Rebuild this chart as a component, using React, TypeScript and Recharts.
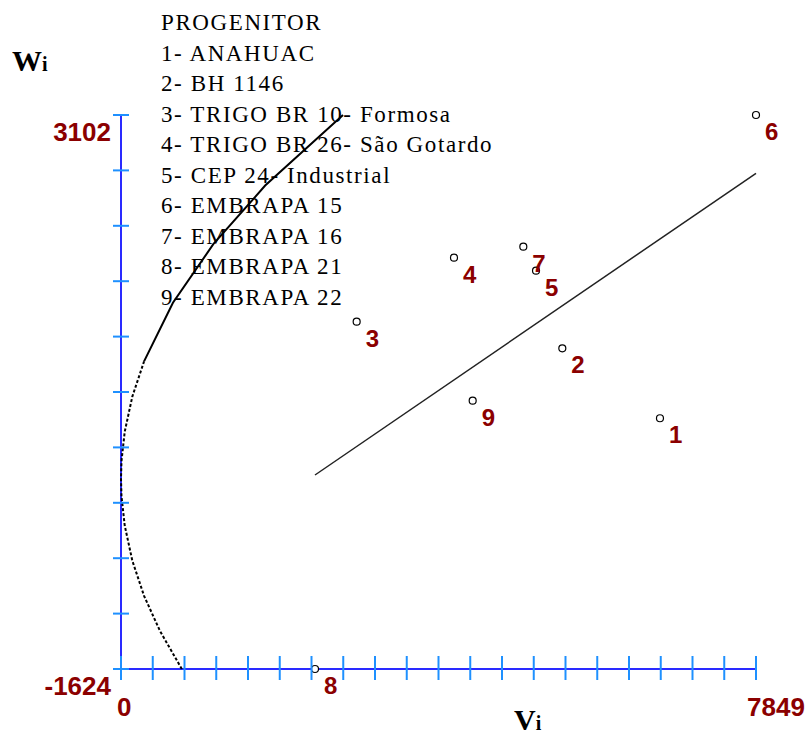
import React from 'react';
import { ComposedChart, Scatter, XAxis, YAxis } from 'recharts';

// progenitors (Vr, Wr)
const progenitorIds = ['1', '2', '3', '4', '5', '6', '7', '8', '9'];
const progenitorNames = [
  'ANAHUAC',
  'BH 1146',
  'TRIGO BR 10- Formosa',
  'TRIGO BR 26- São Gotardo',
  'CEP 24- Industrial',
  'EMBRAPA 15',
  'EMBRAPA 16',
  'EMBRAPA 21',
  'EMBRAPA 22',
];
const vrValues = [6662, 5455, 2913, 4116, 5130, 7849, 4973, 2398, 4347];
const wrValues = [515, 1112, 1339, 1885, 1774, 3102, 1979, -1624, 665];

// regression line Wr = a + b Vr
const regressionV = [2398, 7849];
const regressionW = [31, 2605];

// limiting parabola
const parabolaLowerV = [752, 482, 285, 140, 46, 6, 0, 6, 46, 140, 285];
const parabolaLowerW = [-1624, -1300, -1000, -700, -400, -150, 0, 150, 400, 700, 1000];
const parabolaUpperV = [285, 642, 1141, 1782, 2744];
const parabolaUpperW = [1000, 1500, 2000, 2500, 3102];

const xTicks = [0, 392.45, 784.9, 1177.35, 1569.8, 1962.25, 2354.7, 2747.15, 3139.6, 3532.05, 3924.5,
  4316.95, 4709.4, 5101.85, 5494.3, 5886.75, 6279.2, 6671.65, 7064.1, 7456.55, 7849];
const yTicks = [-1624, -1151.4, -678.8, -206.2, 266.4, 739, 1211.6, 1684.2, 2156.8, 2629.4, 3102];
const xTickLabels = ['0', '7849'];
const yTickLabels = ['-1624', '3102'];

const points = progenitorIds.map((id, i) => ({ id, v: vrValues[i], w: wrValues[i] }));
const regression = regressionV.map((v, i) => ({ v, w: regressionW[i] }));
const parabolaLower = parabolaLowerV.map((v, i) => ({ v, w: parabolaLowerW[i] }));
const parabolaUpper = parabolaUpperV.map((v, i) => ({ v, w: parabolaUpperW[i] }));

const RED = '#8b0000';
const TICK_BLUE = '#1e90ff';
const AXIS_BLUE = '#2a2aff';
const labelFont = '"Liberation Sans", Arial, sans-serif';
const serif = '"Liberation Serif", "Times New Roman", serif';

const XTick = ({ x, y, index }: any) => {
  const last = index === xTicks.length - 1;
  return (
    <g>
      <line x1={x} x2={x} y1={y - 13} y2={y + 11} stroke={TICK_BLUE} strokeWidth={2} />
      {(index === 0 || last) && (
        <text x={x + (last ? -9 : -4)} y={y + 47} textAnchor="start" fill={RED}
          fontFamily={labelFont} fontWeight="bold" fontSize={26}>
          {last ? xTickLabels[1] : xTickLabels[0]}
        </text>
      )}
    </g>
  );
};

const YTick = ({ x, y, index }: any) => {
  const last = index === yTicks.length - 1;
  return (
    <g>
      <line x1={x - 8} x2={x + 8} y1={y} y2={y} stroke={TICK_BLUE} strokeWidth={2} />
      {(index === 0 || last) && (
        <text x={x - 10} y={y + 26} textAnchor="end" fill={RED}
          fontFamily={labelFont} fontWeight="bold" fontSize={26}>
          {last ? yTickLabels[1] : yTickLabels[0]}
        </text>
      )}
    </g>
  );
};

const PointShape = (props: any) => {
  const { cx, cy, payload } = props;
  return (
    <g>
      <circle cx={cx} cy={cy} r={3.5} fill="#fff" stroke="#000" strokeWidth={1.2} />
      <text x={cx + 9} y={cy + 25} fill={RED} fontFamily={labelFont} fontWeight="bold" fontSize={24}>
        {payload.id}
      </text>
    </g>
  );
};

const NoShape = () => <g />;

const App: React.FC = () => {
  return (
    <div style={{ position: 'absolute', left: 0, top: 0, width: 811, height: 737, background: '#fff' }}>
      <div style={{ position: 'absolute', left: 161, top: 8, fontFamily: serif, fontSize: 23, letterSpacing: 1.6, lineHeight: '30.5px', color: '#000' }}>
        <div>PROGENITOR</div>
        {progenitorNames.map((name, i) => (
          <div key={name}>{`${progenitorIds[i]}- ${name}`}</div>
        ))}
      </div>

      <div style={{ position: 'absolute', left: 0, top: 0 }}>
        <ComposedChart width={811} height={737} margin={{ top: 115, right: 55, bottom: 67, left: 120 }}
          style={{ overflow: 'visible' }}>
          <XAxis type="number" dataKey="v" domain={[0, 7849]} ticks={xTicks} interval={0}
            height={1} tickSize={0} tickMargin={0} tick={<XTick />}
            axisLine={{ stroke: AXIS_BLUE, strokeWidth: 2 }} />
          <YAxis type="number" dataKey="w" domain={[-1624, 3102]} ticks={yTicks} interval={0}
            width={1} tickSize={0} tickMargin={0} tick={<YTick />}
            axisLine={{ stroke: AXIS_BLUE, strokeWidth: 2 }} />
          <Scatter data={parabolaLower} line={{ stroke: '#000', strokeWidth: 2, strokeDasharray: '3 2' }}
            shape={<NoShape />} isAnimationActive={false} />
          <Scatter data={parabolaUpper} line={{ stroke: '#000', strokeWidth: 2 }}
            shape={<NoShape />} isAnimationActive={false} />
          <Scatter data={regression} line={{ stroke: '#222', strokeWidth: 1.5 }}
            shape={<NoShape />} isAnimationActive={false} />
          <Scatter data={points} shape={<PointShape />} isAnimationActive={false} />
        </ComposedChart>
      </div>

      <div style={{ position: 'absolute', left: 12, top: 44, fontFamily: serif, fontWeight: 'bold', fontSize: 30, color: '#000' }}>
        W<span style={{ fontSize: 20 }}>i</span>
      </div>
      <div style={{ position: 'absolute', left: 514, top: 703, fontFamily: serif, fontWeight: 'bold', fontSize: 30, color: '#000' }}>
        V<span style={{ fontSize: 20 }}>i</span>
      </div>
    </div>
  );
};

export default App;
